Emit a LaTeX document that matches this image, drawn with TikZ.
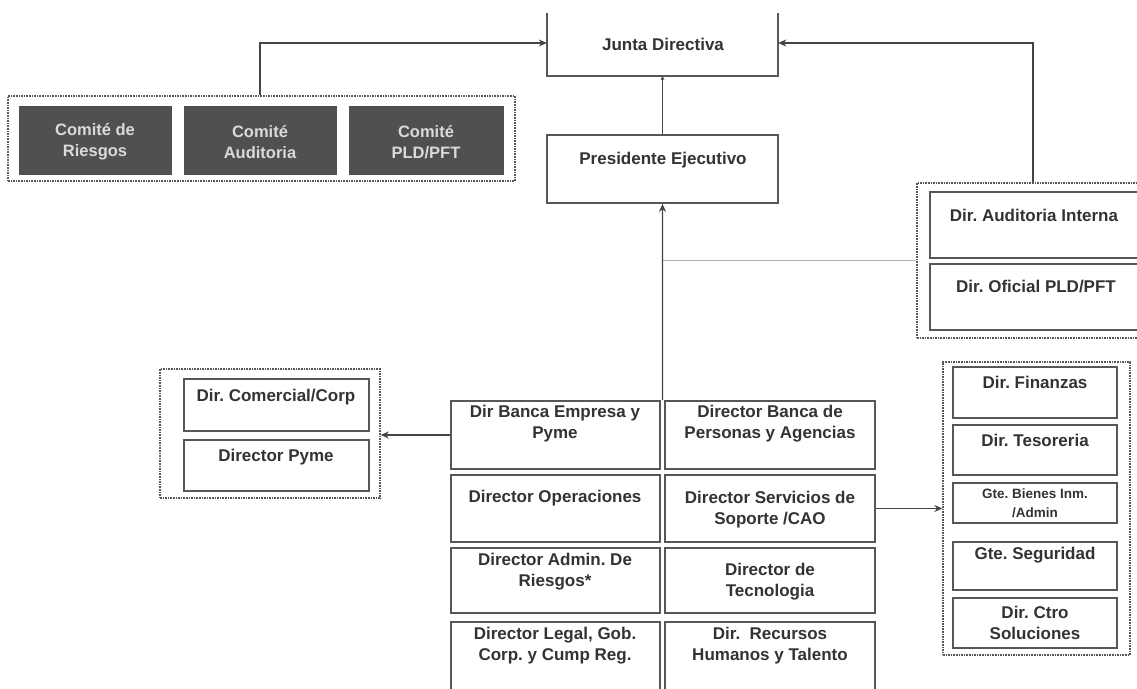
\documentclass[tikz,border=0pt]{standalone}
\usepackage{fontspec}
\setmainfont{Liberation Sans}
\usetikzlibrary{fit,calc,arrows.meta}
\definecolor{ln}{HTML}{444444}
\definecolor{bd}{HTML}{575757}
\definecolor{tx}{HTML}{333333}
\definecolor{dk}{HTML}{505050}
\definecolor{lt}{HTML}{DADADA}
\definecolor{gl}{HTML}{B4B4B4}
\newcommand\bx[6]{\node[#6, fit={(#2,#3) (#4,#5)}, inner sep=0pt] (#1) {};}
\begin{document}
\frenchspacing
\begin{tikzpicture}[x=1pt,y=-1pt,
  obox/.style={draw=bd, line width=1.7pt, fill=white},
  dbox/.style={draw=bd, line width=1.5pt, dash pattern=on 1.6pt off 1pt},
  cbox/.style={fill=dk, draw=dk, line width=1pt},
  nobox/.style={},
  txt/.style={text=tx, align=center, inner sep=0pt, font=\fontsize{17}{21}\selectfont\bfseries},
  stxt/.style={text=tx, align=center, inner sep=0pt, font=\fontsize{13.5}{19}\selectfont\bfseries},
  ctxt/.style={text=lt, align=center, inner sep=0pt, font=\fontsize{16.5}{21}\selectfont\bfseries},
  conn/.style={draw=ln, line width=1.4pt},
  arr/.style={conn, -{Stealth[length=8pt,width=7pt]}},
  gline/.style={draw=gl, line width=1.2pt}]
\fill[white] (0,0) rectangle (1137,688);
\useasboundingbox (0,0) rectangle (1137,688);

% top
\bx{jd}{547}{13}{778}{76}{nobox}
\draw[draw=bd, line width=1.7pt] (jd.north west) -- (jd.south west) -- (jd.south east) -- (jd.north east);
\node[txt] (jdt) at (663,44) {Junta Directiva};
\bx{pe}{547}{135}{778}{203}{obox}
\node[txt] (pet) at (663,160) {Presidente Ejecutivo};

% committees
\bx{cm}{8}{96}{515}{181}{dbox}
\bx{r1}{19}{106}{171}{174}{cbox}
\bx{r2}{184}{106}{336}{174}{cbox}
\bx{r3}{349}{106}{503}{174}{cbox}
\node[ctxt] (r1t) at (95,142) {Comité de\\Riesgos};
\node[ctxt] (r2t) at (260,142) {Comité\\Auditoria};
\node[ctxt] (r3t) at (426,142) {Comité\\PLD/PFT};

% audit / PLD
\bx{ad}{917}{183}{1150}{338}{dbox}
\bx{a1}{930}{192}{1150}{258}{obox}
\bx{a2}{930}{264}{1150}{330}{obox}
\node[txt] (a1t) at (1034,215) {Dir. Auditoria Interna};
\node[txt] (a2t) at (1036,287) {Dir. Oficial PLD/PFT};

% comercial
\bx{cp}{160}{369}{380}{498}{dbox}
\bx{c1}{184}{379}{369}{431}{obox}
\bx{c2}{184}{440}{369}{491}{obox}
\node[txt] (c1t) at (276,397) {Dir. Comercial/Corp};
\node[txt] (c2t) at (276,457) {Director Pyme};

% grid
\bx{b11}{451}{401}{660}{469}{obox}
\bx{b12}{665}{401}{875}{469}{obox}
\bx{b21}{451}{475}{660}{542}{obox}
\bx{b22}{665}{475}{875}{542}{obox}
\bx{b31}{451}{548}{660}{613}{obox}
\bx{b32}{665}{548}{875}{613}{obox}
\bx{b41}{451}{622}{660}{695}{obox}
\bx{b42}{665}{622}{875}{695}{obox}
\node[txt] (b11t) at (555,424) {Dir Banca Empresa y\\Pyme};
\node[txt] (b12t) at (770,424) {Director Banca de\\Personas y Agencias};
\node[txt] (b21t) at (555,498) {Director Operaciones};
\node[txt] (b22t) at (770,510) {Director Servicios de\\Soporte /CAO};
\node[txt] (b31t) at (555,572) {Director Admin. De\\Riesgos*};
\node[txt] (b32t) at (770,582) {Director de\\Tecnologia};
\node[txt] (b41t) at (555,646) {Director Legal, Gob.\\Corp. y Cump Reg.};
\node[txt] (b42t) at (770,646) {Dir.\ \ Recursos\\Humanos y Talento};

% finance
\bx{fb}{943}{362}{1130}{655}{dbox}
\bx{f1}{953}{367}{1117}{418}{obox}
\bx{f2}{953}{425}{1117}{475}{obox}
\bx{f3}{953}{483}{1117}{523}{obox}
\bx{f4}{953}{542}{1117}{590}{obox}
\bx{f5}{953}{598}{1117}{648}{obox}
\node[txt] (f1t) at (1035,382) {Dir. Finanzas};
\node[txt] (f2t) at (1035,440) {Dir. Tesoreria};
\node[stxt] (f3t) at (1035,503) {Gte. Bienes Inm.\\/Admin};
\node[txt] (f4t) at (1035,555) {Gte. Seguridad};
\node[txt] (f5t) at (1035,623) {Dir. Ctro\\Soluciones};

% connectors
\coordinate (cx1) at (260,0);
\coordinate (cx2) at (1033,0);
\coordinate (tk) at ($(b11.north east)!0.5!(b12.north west)$);
\draw[arr] (cx1 |- cm.north) |- ([yshift=1.5pt]jd.west);
\draw[arr] (cx2 |- ad.north) |- ([yshift=1.5pt]jd.east);
\draw[conn, -{Stealth[length=4pt,width=4pt]}] (pe.north) -- (jd.south);
\draw[gline] (tk |- ad.west) -- (ad.west);
\draw[arr] (tk) -- (pe.south);
\draw[arr] (b11.west) -- (b11.west -| cp.east);
\draw[arr] (b22.east) -- (b22.east -| fb.west);
\end{tikzpicture}
\end{document}
